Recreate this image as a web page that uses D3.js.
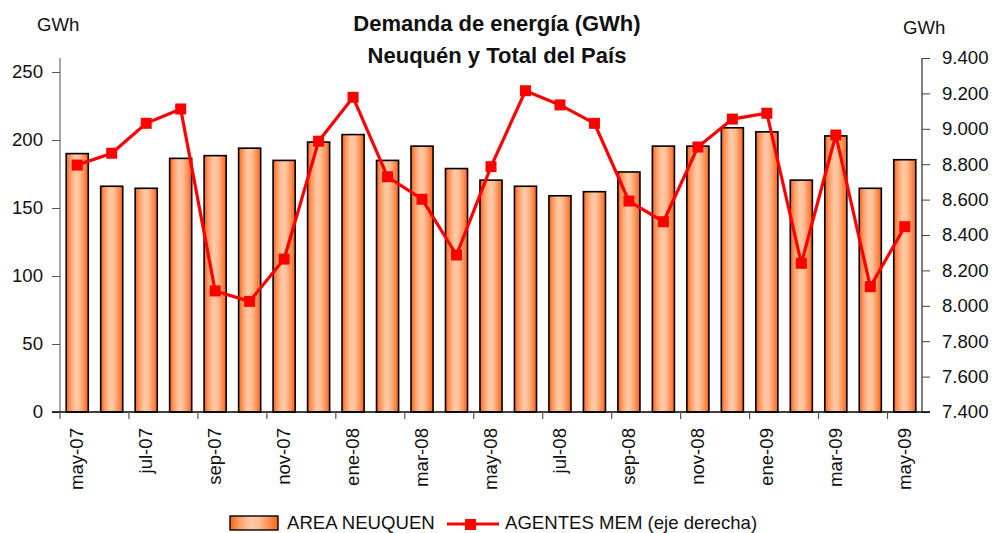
<!DOCTYPE html>
<html><head><meta charset="utf-8">
<script src="https://cdn.jsdelivr.net/npm/d3@7"></script>
<style>
body{margin:0;background:#fff;}
text{font-family:"Liberation Sans",Arial,sans-serif;fill:#111;}
</style></head>
<body><svg id="c" width="993" height="533"></svg>
<script>
const months = ["may-07","jun-07","jul-07","ago-07","sep-07","oct-07","nov-07","dic-07","ene-08","feb-08","mar-08","abr-08","may-08","jun-08","jul-08","ago-08","sep-08","oct-08","nov-08","dic-08","ene-09","feb-09","mar-09","abr-09","may-09"];
const areaNeuquen = [190,166,164.5,186.5,188.5,194,185,198.5,204,185,195.5,179,170.5,166,159,162,176.5,195.5,195.5,209,206,170.5,203,164.5,185.5];
const agentesMem = [8795,8862,9031,9112,8084,8025,8264,8930,9178,8729,8602,8287,8786,9215,9135,9031,8592,8475,8897,9055,9088,8240,8965,8108,8447];
const leftTicks = [0,50,100,150,200,250];
const rightTicks = [7400,7600,7800,8000,8200,8400,8600,8800,9000,9200,9400];
const titleLines = ["Demanda de energía (GWh)","Neuquén y Total del País"];
const legendLabels = ["AREA NEUQUEN","AGENTES MEM (eje derecha)"];

const FS = 18.6;
const svg = d3.select("#c");
const L = 60, R = 922, T = 58, B = 412;
const x = d3.scaleBand().domain(months).range([L, R]).paddingInner(0.36).paddingOuter(0.18);
const yL = d3.scaleLinear().domain([0, 260.3]).range([B, T]);
const yR = d3.scaleLinear().domain([7400, 9400]).range([B, T]);
const fmt = d => d3.format(",.3f")(d/1000).replace(",", "");

const defs = svg.append("defs");
const g = defs.append("linearGradient").attr("id","barg").attr("x1","0").attr("x2","1").attr("y1","0").attr("y2","0");
[[0,"#ff5f14"],[0.18,"#ff9a62"],[0.42,"#ffcaa6"],[0.6,"#ffbf98"],[0.85,"#ff8848"],[1,"#ff5f14"]].forEach(s=>g.append("stop").attr("offset",s[0]).attr("stop-color",s[1]));

// bars
svg.append("g").selectAll("rect").data(areaNeuquen).join("rect")
  .attr("x",(d,i)=>x(months[i])).attr("width",x.bandwidth())
  .attr("y",d=>yL(d)).attr("height",d=>B-yL(d))
  .attr("fill","url(#barg)").attr("stroke","#000").attr("stroke-width",1.6);

// left axis
const la = svg.append("g").attr("transform",`translate(${L},0)`)
  .call(d3.axisLeft(yL).tickValues(leftTicks).tickSize(8).tickPadding(9));
la.select(".domain").attr("stroke","#888").attr("stroke-width",1.5).attr("d",`M-0,${T}V${B}`);
la.selectAll(".tick line").attr("stroke","#555");
la.selectAll(".tick text").attr("font-size",FS).attr("fill","#111");

// right axis
const ra = svg.append("g").attr("transform",`translate(${R},0)`)
  .call(d3.axisRight(yR).tickValues(rightTicks).tickFormat(fmt).tickSize(8).tickPadding(12));
ra.select(".domain").attr("stroke","#555").attr("stroke-width",1.5).attr("d",`M0,${T}V${B}`);
ra.selectAll(".tick line").attr("stroke","#444");
ra.selectAll(".tick text").attr("font-size",FS).attr("fill","#111");

// bottom axis
const step = x.step();
const bnd = months.filter((m,i)=>i%2===0).map(m=>x(m)-(step-x.bandwidth())/2);
svg.append("line").attr("x1",L-8).attr("x2",R+8).attr("y1",B).attr("y2",B).attr("stroke","#000").attr("stroke-width",1.5);
svg.append("g").selectAll("line").data(bnd).join("line")
  .attr("x1",d=>d).attr("x2",d=>d).attr("y1",B).attr("y2",B+7).attr("stroke","#555").attr("stroke-width",1.2);
svg.append("g").selectAll("text").data(months.filter((m,i)=>i%2===0)).join("text")
  .attr("transform",d=>`translate(${x(d)+x.bandwidth()/2+6},${B+16}) rotate(-90)`)
  .attr("text-anchor","end").attr("font-size",FS).text(d=>d);

// line
svg.append("path").datum(agentesMem)
  .attr("d",d3.line().x((d,i)=>x(months[i])+x.bandwidth()/2).y(d=>yR(d)))
  .attr("fill","none").attr("stroke","#ff0000").attr("stroke-width",3.2);
svg.append("g").selectAll("rect").data(agentesMem).join("rect")
  .attr("x",(d,i)=>x(months[i])+x.bandwidth()/2-5.5).attr("y",d=>yR(d)-5.5)
  .attr("width",11).attr("height",11).attr("fill","#ff0000");

// titles
svg.append("text").attr("x",497).attr("y",31).attr("text-anchor","middle").attr("font-size",22).attr("font-weight","bold").text(titleLines[0]);
svg.append("text").attr("x",497).attr("y",63).attr("text-anchor","middle").attr("font-size",22).attr("font-weight","bold").text(titleLines[1]);
svg.append("text").attr("x",37).attr("y",31).attr("font-size",FS).text("GWh");
svg.append("text").attr("x",903).attr("y",34).attr("font-size",FS).text("GWh");

// legend
svg.append("rect").attr("x",230).attr("y",516).attr("width",48).attr("height",14).attr("fill","url(#barg)").attr("stroke","#000").attr("stroke-width",1.4);
svg.append("text").attr("x",287).attr("y",529).attr("font-size",FS).text(legendLabels[0]);
svg.append("line").attr("x1",447).attr("x2",499).attr("y1",524).attr("y2",524).attr("stroke","#ff0000").attr("stroke-width",3.2);
svg.append("rect").attr("x",465).attr("y",519).attr("width",11).attr("height",11).attr("fill","#ff0000");
svg.append("text").attr("x",505).attr("y",529).attr("font-size",FS).text(legendLabels[1]);
</script></body></html>
